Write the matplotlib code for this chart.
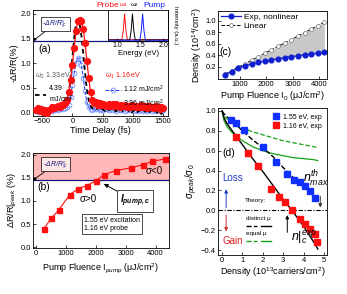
import numpy as np
import matplotlib.pyplot as plt
from matplotlib.lines import Line2D
from matplotlib.legend_handler import HandlerTuple

plt.rcParams['font.family'] = ['Liberation Sans', 'DejaVu Sans']
plt.rcParams['mathtext.fontset'] = 'custom'
plt.rcParams['mathtext.rm'] = 'Liberation Sans'
plt.rcParams['mathtext.it'] = 'Liberation Sans:italic'
plt.rcParams['mathtext.bf'] = 'Liberation Sans:italic:bold'
plt.rcParams['font.size'] = 5.5
plt.rcParams['axes.linewidth'] = 0.6
for ax_ in ('xtick', 'ytick'):
    plt.rcParams[ax_ + '.direction'] = 'in'
    plt.rcParams[ax_ + '.major.size'] = 2
    plt.rcParams[ax_ + '.major.width'] = 0.5
    plt.rcParams[ax_ + '.labelsize'] = 5.5
    plt.rcParams[ax_ + '.major.pad'] = 1.5

# ---- data ----
# (a) transient reflectivity
delay = np.arange(-600, 1501, 30)
dr_396 = [0.05, 0.08, 0.03, 0.06, 0.00, 0.04, -0.02, 0.05, 0.07, 0.10,
          0.08, 0.10, 0.12, 0.10, 0.14, 0.15, 0.18, 0.25, 0.40, 0.65,
          0.95, 1.30, 1.65, 1.85, 1.88, 1.85, 1.70, 1.40, 1.05, 0.70,
          0.40, 0.25, 0.18, 0.20, 0.15, 0.18, 0.14, 0.17, 0.15, 0.13,
          0.16, 0.12, 0.15, 0.13, 0.16, 0.12, 0.10, 0.14, 0.12, 0.15,
          0.11, 0.13, 0.10, 0.14, 0.12, 0.10, 0.13, 0.11, 0.14, 0.10,
          0.12, 0.09, 0.13, 0.10, 0.11, 0.08, 0.12, 0.10, 0.07, 0.10, 0.09]
dr_112 = [0.04, 0.01, 0.05, 0.02, 0.06, 0.03, 0.00, 0.04, 0.06, 0.03,
          0.05, 0.07, 0.04, 0.06, 0.08, 0.07, 0.09, 0.10, 0.15, 0.30,
          0.55, 0.80, 1.00, 1.10, 1.08, 0.95, 0.70, 0.42, 0.20, 0.10,
          0.06, 0.05, 0.08, 0.06, 0.09, 0.05, 0.07, 0.04, 0.08, 0.06,
          0.05, 0.08, 0.04, 0.06, 0.03, 0.07, 0.05, 0.04, 0.06, 0.03,
          0.05, 0.07, 0.04, 0.06, 0.03, 0.05, 0.02, 0.06, 0.04, 0.03,
          0.05, 0.02, 0.04, 0.06, 0.03, 0.05, 0.02, 0.04, 0.06, 0.03, 0.04]
dr_439 = [0.06, 0.02, 0.04, -0.01, 0.03, 0.05, 0.01, 0.03, 0.00, 0.04,
          0.06, 0.03, 0.05, 0.08, 0.06, 0.10, 0.14, 0.20, 0.35, 0.70,
          1.10, 1.50, 1.80, 1.87, 1.80, 1.55, 1.20, 0.80, 0.45, 0.25,
          0.12, 0.08, 0.10, 0.06, 0.09, 0.04, 0.07, 0.05, 0.02, 0.06,
          0.04, 0.07, 0.03, 0.05, 0.01, 0.06, 0.03, 0.05, 0.00, 0.04,
          0.06, 0.02, 0.04, -0.01, 0.05, 0.03, 0.00, 0.04, 0.02, 0.05,
          0.01, 0.03, -0.02, 0.04, 0.02, 0.00, 0.03, -0.03, 0.02, -0.04, 0.01]
dr_crit = 1.45

# inset spectra
e_probe = [0.8, 1.10, 1.13, 1.16, 1.19, 1.22, 2.1]
i_probe = [0.02, 0.02, 0.35, 1.0, 0.35, 0.02, 0.02]
e_w2 = [0.8, 1.27, 1.30, 1.33, 1.36, 1.39, 2.1]
i_w2 = [0.01, 0.01, 0.35, 1.0, 0.35, 0.01, 0.01]
e_pump = [0.8, 1.49, 1.52, 1.55, 1.58, 1.61, 2.1]
i_pump = [0.0, 0.0, 0.35, 1.0, 0.35, 0.0, 0.0]

# (b) peak signal vs pump fluence
fluence_b = [255, 500, 745, 1130, 1410, 1690, 2000, 2280, 2670, 3190, 3590, 3890, 4300]
peak_b = [0.40, 0.62, 0.80, 1.14, 1.27, 1.33, 1.44, 1.57, 1.66, 1.72, 1.79, 1.86, 1.91]

# (c) carrier density vs fluence
fluence_c = [450, 700, 950, 1200, 1450, 1700, 1950, 2200, 2450, 2700, 2950, 3200, 3450, 3700, 3950, 4200]
dens_nl = [0.06, 0.12, 0.18, 0.22, 0.25, 0.28, 0.30, 0.32, 0.34, 0.36, 0.38, 0.39, 0.41, 0.42, 0.44, 0.45]
dens_lin = [0.075, 0.135, 0.195, 0.255, 0.315, 0.375, 0.435, 0.495, 0.555, 0.615, 0.675, 0.735,
            0.795, 0.855, 0.915, 0.975]

# (d) normalized conductivity vs density
dens_155 = [0.44, 0.69, 1.1, 2.0, 2.66, 3.21, 3.54, 3.84, 4.08, 4.3, 4.54]
sig_155 = [0.91, 0.88, 0.81, 0.64, 0.49, 0.37, 0.31, 0.28, 0.24, 0.19, 0.12]
dens_116 = [0.69, 1.26, 1.75, 2.41, 2.77, 3.1, 3.43, 3.84, 4.08, 4.33, 4.54, 4.66]
sig_116 = [0.74, 0.58, 0.45, 0.21, 0.13, 0.08, 0.0, -0.09, -0.14, -0.19, -0.24, -0.32]
dens_th = [0, 0.1, 0.25, 0.5, 1, 1.5, 2, 2.5, 3, 3.5, 4, 4.5, 4.7]
th_distinct_155 = [1.0, 0.97, 0.94, 0.9, 0.8, 0.71, 0.63, 0.54, 0.43, 0.33, 0.24, 0.14, 0.1]
th_distinct_116 = [1.0, 0.93, 0.87, 0.8, 0.66, 0.52, 0.39, 0.25, 0.11, -0.02, -0.16, -0.32, -0.39]
th_equal_155 = [1.0, 0.95, 0.92, 0.88, 0.83, 0.79, 0.76, 0.73, 0.70, 0.68, 0.66, 0.64, 0.63]
th_equal_116 = [1.0, 0.9, 0.84, 0.78, 0.70, 0.64, 0.60, 0.57, 0.55, 0.53, 0.52, 0.51, 0.50]

red = '#ff1010'
blue = '#1030ff'
navy = '#141480'
green = '#18a018'

W, H = 347, 294
fig = plt.figure(figsize=(W / 100, H / 100), dpi=100)


def rect(l, r, t, b):
    return [l / W, 1 - b / H, (r - l) / W, (b - t) / H]


# ---------------- (a) ----------------
ax = fig.add_axes(rect(33, 168, 10, 116))
ax.plot(delay, dr_439, '--', color='k', lw=1.3, dashes=(2.5, 2), zorder=3)
ax.plot(delay, dr_112, '--', color=blue, lw=0.7, marker='o', ms=3.5, mfc='none',
        mec='#6080ff', mew=0.5, zorder=2)
ax.plot(delay, dr_396, '-', color=red, lw=0.9, marker='o', ms=4.2, mfc=red, mec=red, zorder=4)
ax.axhline(dr_crit, color=navy, lw=0.9)
ax.set_xlim(-650, 1580)
ax.set_ylim(-0.08, 2.08)
ax.set_xticks([-500, 0, 500, 1000, 1500])
ax.set_yticks([0, 0.5, 1.0, 1.5, 2.0])
ax.set_xlabel('Time Delay (fs)', fontsize=6.5, labelpad=0.5)
ax.set_ylabel('-ΔR/R(%)', fontsize=6.5, labelpad=1)
ax.text(0.04, 0.6, '(a)', transform=ax.transAxes, fontsize=7.5)
ax.annotate('-ΔR/R|$_c$', xy=(0, dr_crit), xycoords=('axes fraction', 'data'),
            xytext=(0.07, 1.8), textcoords=('axes fraction', 'data'), color=navy,
            fontsize=5, style='italic', va='center',
            bbox=dict(boxstyle='square,pad=0.25', fc='white', ec='k', lw=0.5),
            arrowprops=dict(arrowstyle='-|>', lw=0.6, color='k', mutation_scale=4,
                            shrinkA=0, shrinkB=0))

h1 = Line2D([], [], color='k', ls='--', lw=1.3, dashes=(2.5, 2))
lg1 = ax.legend([h1], ['4.39\nmJ/cm$^2$'], loc='upper left', bbox_to_anchor=(-0.02, 0.47),
                frameon=False, fontsize=5, title='ω$_2$ 1.33 eV', title_fontsize=5,
                handlelength=1.6, handletextpad=0.4, borderpad=0.2)
lg1.get_title().set_color('#555555')
lg1._legend_box.align = 'left'
ax.add_artist(lg1)
h2 = Line2D([], [], color=blue, ls='--', lw=0.7, marker='o', ms=3.5, mfc='none', mec='#6080ff', mew=0.5)
h3 = Line2D([], [], color=red, lw=0.9, marker='o', ms=4.2, mfc=red, mec=red)
lg2 = ax.legend([h2, h3], ['1.12 mJ/cm$^2$', '3.96 mJ/cm$^2$'], loc='upper left',
                bbox_to_anchor=(0.5, 0.47), frameon=False, fontsize=5,
                title='ω$_1$ 1.16 eV', title_fontsize=5, handlelength=2.2,
                handletextpad=0.4, borderpad=0.2, labelspacing=0.4)
lg2.get_title().set_color(red)
lg2._legend_box.align = 'left'

# inset spectra
axi = fig.add_axes(rect(108, 168, 10, 41))
axi.plot(e_probe, i_probe, color=red, lw=0.7)
axi.plot(e_w2, i_w2, color='k', lw=0.7)
axi.plot(e_pump, i_pump, color='#1020ff', lw=0.7)
axi.set_xlim(0.8, 2.1)
axi.set_ylim(-0.03, 1.15)
axi.set_xticks([1.0, 1.5, 2.0])
axi.set_yticks([])
axi.tick_params(labelsize=5, pad=1)
axi.set_xlabel('Energy (eV)', fontsize=5.5, labelpad=0.5)
axi.yaxis.set_label_position('right')
axi.set_ylabel('Intensity (a.u.)', rotation=270, fontsize=4.3, labelpad=7)
tb = axi.get_xaxis_transform()
axi.text(1.04, 1.03, 'Probe', color=red, fontsize=6, ha='right', va='bottom', transform=tb)
axi.text(1.14, 1.03, 'ω$_1$', color=red, fontsize=4.5, ha='center', va='bottom', transform=tb)
axi.text(1.38, 1.03, 'ω$_2$', color='k', fontsize=4.5, ha='center', va='bottom', transform=tb)
axi.text(1.56, 1.03, 'Pump', color='#1020ff', fontsize=6, ha='left', va='bottom', transform=tb)

# ---------------- (b) ----------------
ax = fig.add_axes(rect(33, 169, 153, 248))
ax.axhspan(dr_crit, 2.1, color='#ffb8b8', lw=0)
ax.axhline(dr_crit, color=navy, lw=0.9)
ax.plot(fluence_b, peak_b, '-s', color=red, ms=3.6, lw=0.8)
ax.set_xlim(-110, 4450)
ax.set_ylim(-0.02, 2.04)
ax.set_xticks([0, 1000, 2000, 3000, 4000])
ax.set_yticks([0, 0.5, 1.0, 1.5, 2.0])
ax.set_xlabel('Pump Fluence I$_{pump}$ (μJ/cm$^2$)', fontsize=6.5, labelpad=3)
ax.set_ylabel('ΔR/R|$_{peak}$ (%)', fontsize=6.5, labelpad=1)
ax.text(20, 1.24, '(b)', fontsize=7.5)
ax.text(1450, 0.98, 'σ>0', fontsize=7)
ax.text(3650, 1.58, 'σ<0', fontsize=7)
ax.annotate('-ΔR/R|$_c$', xy=(0, dr_crit), xycoords=('axes fraction', 'data'),
            xytext=(0.07, 1.8), textcoords=('axes fraction', 'data'), color=navy,
            fontsize=5, style='italic', va='center',
            bbox=dict(boxstyle='square,pad=0.25', fc='#ffe8e8', ec='k', lw=0.5),
            arrowprops=dict(arrowstyle='-|>', lw=0.6, color='k', mutation_scale=4,
                            shrinkA=0, shrinkB=0))
ax.annotate(r'$\mathbf{I_{pump,c}}$', xy=(2180, 1.40), xytext=(2800, 1.0), fontsize=7,
            va='center', bbox=dict(boxstyle='square,pad=0.3', fc='white', ec='k', lw=0.5),
            arrowprops=dict(arrowstyle='-|>', lw=0.7, color='k', mutation_scale=6, shrinkA=0))
ax.text(1600, 0.5, '1.55 eV excitation\n1.16 eV probe', fontsize=5, va='center',
        bbox=dict(boxstyle='square,pad=0.35', fc='white', ec='k', lw=0.5))

# ---------------- (c) ----------------
ax = fig.add_axes(rect(218, 327, 11, 79))
ax.fill_between(fluence_c, dens_nl, dens_lin, color='#c8c8c8', lw=0)
ax.plot(fluence_c, dens_lin, '--', color='k', lw=0.7, marker='o', ms=2.8, mfc='white',
        mec='#777777', mew=0.5, label='Linear')
ax.plot(fluence_c, dens_nl, '-o', color='#1020d0', lw=0.9, ms=3.4, label='Exp, nonlinear')
h = ax.get_legend_handles_labels()
ax.legend(h[0][::-1], h[1][::-1], loc='upper left', frameon=False, fontsize=6,
          handlelength=2.4, handletextpad=0.4, borderpad=0.2, labelspacing=0.15,
          borderaxespad=0.1)
ax.set_xlim(180, 4300)
ax.set_ylim(-0.01, 1.17)
ax.set_xticks([1000, 2000, 3000, 4000])
ax.set_yticks([0.2, 0.4, 0.6, 0.8, 1.0])
ax.set_xlabel('Pump Fluence I$_0$ (μJ/cm$^2$)', fontsize=6.5, labelpad=1)
ax.set_ylabel('Density (10$^{14}$/cm$^2$)', fontsize=6.5, labelpad=1)
ax.text(0.01, 0.36, '(c)', transform=ax.transAxes, fontsize=7.5)

# ---------------- (d) ----------------
ax = fig.add_axes(rect(218, 327, 108, 255))
ax.axhline(0, color='k', lw=0.8, ls='-.', dashes=(4, 1.5, 1, 1.5))
ax.plot(dens_th, th_equal_155, '--', color=green, lw=0.9)
ax.plot(dens_th, th_equal_116, '-', color=green, lw=0.9)
ax.plot(dens_th, th_distinct_155, '--', color='k', lw=1.0)
ax.plot(dens_th, th_distinct_116, '-', color='k', lw=1.0)
ax.plot(dens_155, sig_155, 's', color='#1030ff', ms=4, label='1.55 eV, exp')
ax.plot(dens_116, sig_116, 's', color=red, ms=4, label='1.16 eV, exp')
leg = ax.legend(loc='upper right', frameon=False, fontsize=5, handlelength=1,
                handletextpad=0.4, borderpad=0.3, labelspacing=0.3)
ax.add_artist(leg)
ax.set_xlim(-0.2, 5.15)
ax.set_ylim(-0.45, 1.03)
ax.set_xticks([0, 1, 2, 3, 4, 5])
ax.set_yticks([-0.4, -0.2, 0.0, 0.2, 0.4, 0.6, 0.8, 1.0])
ax.set_xlabel('Density (10$^{13}$carriers/cm$^2$)', fontsize=6.5, labelpad=1)
ax.set_ylabel('σ$_{peak}$/σ$_0$', fontsize=7, labelpad=1)
ax.text(0.0, 0.55, '(d)', fontsize=7.5)
ax.annotate('', xy=(0.2, 0.24), xytext=(0.2, 0.0),
            arrowprops=dict(arrowstyle='-|>', color='#2040c0', lw=0.7, mutation_scale=5))
ax.annotate('', xy=(0.2, -0.24), xytext=(0.2, -0.02),
            arrowprops=dict(arrowstyle='-|>', color='#c03030', lw=0.7, mutation_scale=5))
ax.text(0.0, 0.3, 'Loss', color='#2040c0', fontsize=7)
ax.text(0.0, -0.34, 'Gain', color='#e02020', fontsize=7)
ax.text(1.1, 0.08, 'Theory:', fontsize=4.5)
lgd = ax.legend([(Line2D([], [], color='k', ls='--', lw=1.0), Line2D([], [], color='k', lw=1.0))],
                [''], loc='upper left', bbox_to_anchor=(1.0, -0.02), bbox_transform=ax.transData,
                frameon=False, fontsize=4.5, title='distinct μ', title_fontsize=4.5,
                handler_map={tuple: HandlerTuple(ndivide=None, pad=0.6)}, handlelength=4,
                borderpad=0.1, handletextpad=0)
lgd._legend_box.align = 'left'
ax.add_artist(lgd)
lge = ax.legend([(Line2D([], [], color=green, ls='--', lw=1.0), Line2D([], [], color=green, lw=1.0))],
                [''], loc='upper left', bbox_to_anchor=(1.0, -0.17), bbox_transform=ax.transData,
                frameon=False, fontsize=4.5, title='equal μ', title_fontsize=4.5,
                handler_map={tuple: HandlerTuple(ndivide=None, pad=0.6)}, handlelength=4,
                borderpad=0.1, handletextpad=0)
lge._legend_box.align = 'left'
ax.annotate('', xy=(3.2, -0.02), xytext=(3.2, -0.25),
            arrowprops=dict(arrowstyle='-|>', color='k', lw=0.7, mutation_scale=5))
ax.text(3.4, -0.3, r'$n|_c^{exp}$', fontsize=9)
ax.annotate('', xy=(4.82, 0.0), xytext=(4.82, 0.17),
            arrowprops=dict(arrowstyle='-|>', color='#333333', lw=0.7, mutation_scale=5))
ax.text(4.6, 0.32, r'$n_{max}^{th}$', fontsize=9, ha='center', va='center')

fig.savefig('out.png', dpi=100)
